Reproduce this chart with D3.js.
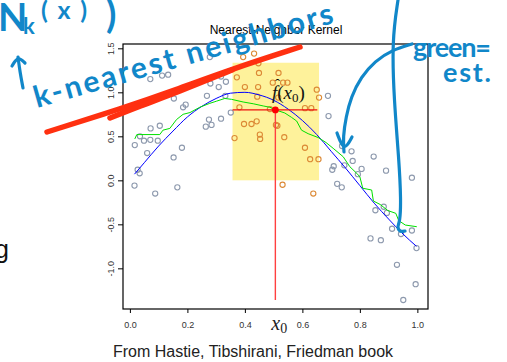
<!DOCTYPE html>
<html>
<head>
<meta charset="utf-8">
<script src="https://cdn.jsdelivr.net/npm/d3@7"></script>
<style>
  body { margin: 0; background: #fff; }
  svg { display: block; }
  .tick text { font-family: "Liberation Sans", Arial, sans-serif; font-size: 9px; fill: #333; }
  .ink { font-family: Lato, "Open Sans", sans-serif; font-weight: bold; fill: #1187c9; }
</style>
</head>
<body>
<svg id="chart" width="507" height="362"></svg>
<script>
// observed points, outside the neighbourhood (gray) and inside it (orange)
var grayX = [0.071, 0.112, 0.133, 0.153, 0.185, 0.194, 0.278, 0.280, 0.309, 0.317, 0.334, 0.332, 0.351,
             0.268, 0.275, 0.264, 0.284, 0.317, 0.104, 0.072, 0.035, 0.049, 0.017, 0.071, 0.097, 0.060,
             0.181, 0.152, 0.027, 0.034, 0.016, 0.088, 0.165,
             0.689, 0.691, 0.738, 0.771, 0.848, 0.775, 0.746, 0.709, 0.704, 0.806, 0.891, 0.981, 0.793,
             0.721, 0.737, 0.854, 0.883, 0.894, 0.912, 0.981, 0.943, 0.837, 0.873, 0.997, 0.929, 0.994, 0.951];
var grayY = [1.15, 1.19, 1.20, 0.93, 0.83, 0.86, 1.40, 1.10, 1.06, 1.18, 1.12, 0.96, 0.77,
             0.96, 0.69, 0.61, 0.63, 0.70, 0.62, 0.59, 0.50, 0.45, 0.40, 0.46, 0.45, 0.31,
             0.37, 0.26, 0.12, 0.08, -0.06, -0.15, -0.08,
             0.96, 0.73, 0.39, 0.33, 0.27, 0.22, 0.17, 0.16, 0.12, 0.13, 0.11, 0.03, 0.07,
             -0.04, -0.08, -0.34, -0.30, -0.37, -0.55, -0.57, -0.61, -0.66, -0.68, -0.77, -0.96, -1.18, -1.36];
var orangeX = [0.394, 0.432, 0.447, 0.372, 0.449, 0.517, 0.497, 0.533, 0.548, 0.400, 0.446, 0.650,
               0.443, 0.516, 0.658, 0.381, 0.487, 0.609, 0.631, 0.397, 0.423, 0.441, 0.508, 0.513,
               0.452, 0.453, 0.537, 0.364, 0.609, 0.627, 0.656, 0.531, 0.638];
var orangeY = [1.40, 1.44, 1.33, 1.17, 1.22, 1.22, 1.11, 1.11, 1.11, 1.06, 1.06, 1.03,
               0.95, 0.94, 0.94, 0.83, 0.81, 0.82, 0.82, 0.64, 0.64, 0.67, 0.63, 0.62,
               0.52, 0.47, 0.49, 0.48, 0.37, 0.24, 0.24, -0.05, -0.15];

// true function (blue) and nearest-neighbour average (green)
var trueX = [0.016, 0.05, 0.10, 0.15, 0.20, 0.25, 0.30, 0.35, 0.40, 0.45, 0.50,
             0.55, 0.60, 0.65, 0.70, 0.75, 0.80, 0.85, 0.90, 0.95, 0.997];
var trueY = [0.07, 0.20, 0.39, 0.56, 0.72, 0.84, 0.93, 0.99, 1.00, 0.97, 0.91,
             0.81, 0.68, 0.52, 0.33, 0.14, -0.06, -0.26, -0.44, -0.61, -0.75];
var knnX = [0.017, 0.024, 0.035, 0.104, 0.115, 0.139, 0.162, 0.185, 0.209, 0.243, 0.278, 0.302,
            0.330, 0.354, 0.394, 0.429, 0.464, 0.487, 0.507, 0.539, 0.562, 0.580, 0.597, 0.620,
            0.655, 0.682, 0.707, 0.742, 0.765, 0.789, 0.800, 0.810, 0.841, 0.847, 0.871, 0.897,
            0.925, 0.935, 0.958, 0.998];
var knnY = [0.47, 0.52, 0.52, 0.52, 0.57, 0.59, 0.69, 0.75, 0.77, 0.83, 0.875, 0.90,
            0.93, 0.92, 0.89, 0.87, 0.845, 0.83, 0.80, 0.765, 0.716, 0.674, 0.57, 0.53,
            0.486, 0.43, 0.364, 0.268, 0.155, 0.08, 0.04, -0.09, -0.11, -0.235, -0.275, -0.343,
            -0.375, -0.457, -0.508, -0.527];

var x0 = 0.506, fhat = 0.80, lineBottom = -1.36;
var windowX = [0.357, 0.658], windowTop = 1.336, fitX = [0.357, 0.652];
var xTicks = [0, 0.2, 0.4, 0.6, 0.8, 1.0];
var yTicks = [-1.0, -0.5, 0.0, 0.5, 1.0, 1.5];

var svg = d3.select("#chart");
var x = d3.scaleLinear().domain([-0.024, 1.037]).range([123, 428]);
var y = d3.scaleLinear().domain([-1.462, 1.549]).range([309, 44]);

// neighbourhood window
svg.append("rect")
    .attr("x", x(windowX[0])).attr("y", y(windowTop))
    .attr("width", x(windowX[1]) - x(windowX[0]))
    .attr("height", y(0) - y(windowTop))
    .attr("fill", "#fef29b");

function circles(xs, ys, color) {
  svg.append("g").selectAll("circle")
    .data(xs.map(function(d, i) { return [d, ys[i]]; }))
    .enter().append("circle")
      .attr("cx", function(d) { return x(d[0]); })
      .attr("cy", function(d) { return y(d[1]); })
      .attr("r", 2.6)
      .attr("fill", "none")
      .attr("stroke", color)
      .attr("stroke-width", 1.1);
}
circles(grayX, grayY, "#8d99ad");
circles(orangeX, orangeY, "#dc8a36");

var line = d3.line().x(function(d) { return x(d[0]); }).y(function(d) { return y(d[1]); });
svg.append("path")
    .datum(trueX.map(function(d, i) { return [d, trueY[i]]; }))
    .attr("d", line.curve(d3.curveMonotoneX))
    .attr("fill", "none").attr("stroke", "#0000ff").attr("stroke-width", 1);
svg.append("path")
    .datum(knnX.map(function(d, i) { return [d, knnY[i]]; }))
    .attr("d", d3.line().x(function(d) { return x(d[0]); }).y(function(d) { return y(d[1]); }))
    .attr("fill", "none").attr("stroke", "#00e000").attr("stroke-width", 1);

// fitted value at x0
svg.append("line")
    .attr("x1", x(x0)).attr("x2", x(x0)).attr("y1", y(fhat)).attr("y2", y(lineBottom))
    .attr("stroke", "#ff4040").attr("stroke-width", 1.4);
svg.append("line")
    .attr("x1", x(fitX[0])).attr("x2", x(fitX[1])).attr("y1", y(fhat)).attr("y2", y(fhat))
    .attr("stroke", "#ee1111").attr("stroke-width", 1.2);
svg.append("circle")
    .attr("cx", x(x0)).attr("cy", y(fhat)).attr("r", 3.4).attr("fill", "#ff0000");

// frame and axes
svg.append("rect")
    .attr("x", x.range()[0]).attr("y", y.range()[1])
    .attr("width", x.range()[1] - x.range()[0]).attr("height", y.range()[0] - y.range()[1])
    .attr("fill", "none").attr("stroke", "#000").attr("stroke-width", 1.2);

var xAxis = svg.append("g")
    .attr("transform", "translate(0," + y.range()[0] + ")")
    .call(d3.axisBottom(x).tickValues(xTicks).tickSize(4).tickPadding(9)
      .tickFormat(function(d) { return d.toFixed(1); }));
xAxis.select(".domain").remove();

var yAxis = svg.append("g")
    .attr("transform", "translate(" + x.range()[0] + ",0)")
    .call(d3.axisLeft(y).tickValues(yTicks).tickSize(5)
      .tickFormat(function(d) { return d.toFixed(1); }));
yAxis.select(".domain").remove();
yAxis.selectAll("text")
    .attr("transform", "rotate(-90)")
    .attr("x", 0).attr("y", -9.5).attr("dy", 0)
    .attr("text-anchor", "middle");

svg.append("text")
    .attr("x", 276).attr("y", 34)
    .attr("text-anchor", "middle")
    .style("font-family", "'Liberation Sans', Arial, sans-serif")
    .style("font-size", "12px")
    .text("Nearest-Neighbor Kernel");

// x0 label
var xl = svg.append("text")
    .attr("x", x(x0) - 4).attr("y", 330)
    .style("font-family", "'Liberation Serif', 'DejaVu Serif', serif")
    .style("font-size", "20px").attr("fill", "#222");
xl.append("tspan").style("font-style", "italic").text("x");
xl.append("tspan").attr("dy", 3).style("font-size", "14px").text("0");

// f-hat label
var fl = svg.append("text")
    .attr("x", 272).attr("y", 99)
    .style("font-family", "'Liberation Serif', 'DejaVu Serif', serif")
    .style("font-size", "19px").attr("fill", "#111");
fl.append("tspan").style("font-style", "italic").text("f");
fl.append("tspan").text("(");
fl.append("tspan").style("font-style", "italic").text("x");
fl.append("tspan").attr("dy", 3).style("font-size", "13px").text("0");
fl.append("tspan").attr("dy", -3).text(")");
svg.append("text")
    .attr("x", 275).attr("y", 89)
    .style("font-family", "'Liberation Serif', serif").style("font-size", "15px")
    .text("\u02c6");

// caption and cut-off slide text
svg.append("text")
    .attr("x", 253).attr("y", 357)
    .attr("text-anchor", "middle")
    .style("font-family", "'Liberation Sans', Arial, sans-serif")
    .style("font-size", "16px").attr("fill", "#222")
    .text("From Hastie, Tibshirani, Friedman book");
svg.append("text")
    .attr("x", -5).attr("y", 258)
    .style("font-family", "'Liberation Sans', Arial, sans-serif")
    .style("font-size", "25px").attr("fill", "#111")
    .text("g");

// hand-drawn annotations on the slide (screen pixels)
var redStrokes = [
  [[47, 132], [123, 108], [175, 90], [232, 69], [300, 47]],
  [[110, 118], [140, 106], [178, 92], [232, 70]]
];
var blueStrokes = [
  [[23, 88], [20, 72], [18, 57]],
  [[12, 66], [18, 56], [25, 63]],
  [[412, 44], [392, 50], [375, 61], [361, 77], [351, 97], [346, 117], [343, 137], [344, 152]],
  [[337, 133], [344, 152], [352, 137]],
  [[398, 0], [392, 40], [394, 100], [399, 160], [401, 200], [400, 222], [397, 227], [400, 232], [405, 231]]
];
var ink = d3.line().curve(d3.curveBasis);
redStrokes.forEach(function(s) {
  svg.append("path").attr("d", ink(s)).attr("fill", "none")
    .attr("stroke", "#ff3010").attr("stroke-width", 5.5).attr("stroke-linecap", "round");
});
blueStrokes.forEach(function(s) {
  svg.append("path").attr("d", ink(s)).attr("fill", "none")
    .attr("stroke", "#1187c9").attr("stroke-width", 3.2).attr("stroke-linecap", "round");
});

svg.append("text").attr("class", "ink").attr("x", -2).attr("y", 31).style("font-size", "38px").text("N");
svg.append("text").attr("class", "ink").attr("x", 23).attr("y", 34).style("font-size", "22px").text("k");
svg.append("text").attr("class", "ink").attr("x", 41).attr("y", 19).style("font-size", "25px")
    .attr("textLength", 46).attr("lengthAdjust", "spacing").text("(x)");
svg.append("text").attr("class", "ink").attr("x", 106).attr("y", 28).style("font-size", "38px").text(")");
svg.append("text").attr("class", "ink")
    .attr("transform", "translate(37,108) rotate(-16)")
    .style("font-size", "30px")
    .attr("textLength", 310).attr("lengthAdjust", "spacing")
    .text("k-nearest neighbors");
svg.append("text").attr("class", "ink").attr("x", 413).attr("y", 57).style("font-size", "27px")
    .attr("textLength", 78).attr("lengthAdjust", "spacing").text("green=");
svg.append("text").attr("class", "ink").attr("x", 443).attr("y", 82).style("font-size", "27px")
    .attr("textLength", 48).attr("lengthAdjust", "spacing").text("est.");
</script>
</body>
</html>
